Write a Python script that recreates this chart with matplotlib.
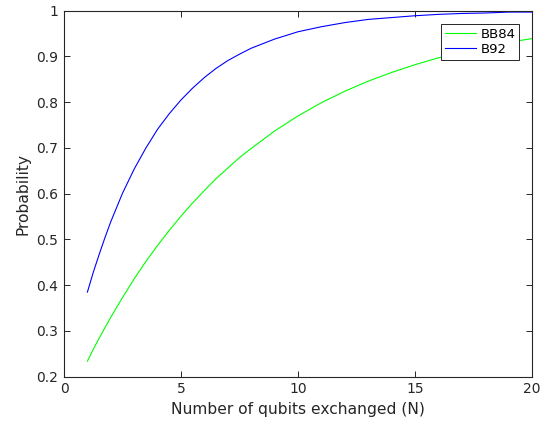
import matplotlib
matplotlib.use('Agg')
import matplotlib.pyplot as plt

# values (denser where the curves bend most)
n_qubits = [1, 1.25, 1.5, 1.75, 2, 2.5, 3, 3.5, 4, 4.5, 5, 5.5, 6, 6.5, 7, 7.5, 8,
            9, 10, 11, 12, 13, 14, 15, 16, 17, 18, 19, 20]
prob_bb84 = [0.234, 0.260, 0.284, 0.307, 0.330, 0.373, 0.414, 0.452, 0.487, 0.520,
             0.551, 0.580, 0.607, 0.633, 0.656, 0.679, 0.699,
             0.737, 0.770, 0.799, 0.824, 0.846, 0.865, 0.882, 0.897, 0.910, 0.921,
             0.931, 0.939]
prob_b92 = [0.385, 0.428, 0.467, 0.504, 0.539, 0.601, 0.654, 0.700, 0.741, 0.775,
            0.805, 0.831, 0.854, 0.874, 0.891, 0.905, 0.918,
            0.938, 0.954, 0.965, 0.974, 0.981, 0.985, 0.989, 0.992, 0.994, 0.995,
            0.997, 0.997]
x_ticks = [0, 5, 10, 15, 20]
y_ticks = [0.2, 0.3, 0.4, 0.5, 0.6, 0.7, 0.8, 0.9, 1.0]
y_tick_labels = ['0.2', '0.3', '0.4', '0.5', '0.6', '0.7', '0.8', '0.9', '1']

axis_color = '#262626'
plt.rcParams['font.family'] = ['DejaVu Sans']

fig = plt.figure(figsize=(5.48, 4.25), dpi=100)
ax = fig.add_axes([0.1168, 0.1136, 0.8540, 0.8612])

ax.plot(n_qubits, prob_bb84, color=(0, 1, 0), linewidth=0.8, label='BB84')
ax.plot(n_qubits, prob_b92, color=(0, 0, 1), linewidth=0.8, label='B92')

ax.set_xlim(0, 20)
ax.set_ylim(0.2, 1)
ax.set_xticks(x_ticks)
ax.set_yticks(y_ticks)
ax.set_yticklabels(y_tick_labels)
ax.tick_params(direction='in', length=4, width=0.7, colors=axis_color,
               labelsize=10, top=True, right=True, pad=4)
for spine in ax.spines.values():
    spine.set_color(axis_color)
    spine.set_linewidth(0.8)

ax.set_xlabel('Number of qubits exchanged (N)', fontsize=11.2, color=axis_color)
ax.set_ylabel('Probability', fontsize=11.2, color=axis_color)

leg = ax.legend(loc='upper right', bbox_to_anchor=(0.973, 0.9645), fontsize=9.5,
                fancybox=False, framealpha=1, edgecolor=axis_color,
                handlelength=2.4, handletextpad=0.3, borderpad=0.3,
                labelspacing=0.15, borderaxespad=0)
leg.get_frame().set_linewidth(0.7)

plt.savefig('out.png', dpi=100)
